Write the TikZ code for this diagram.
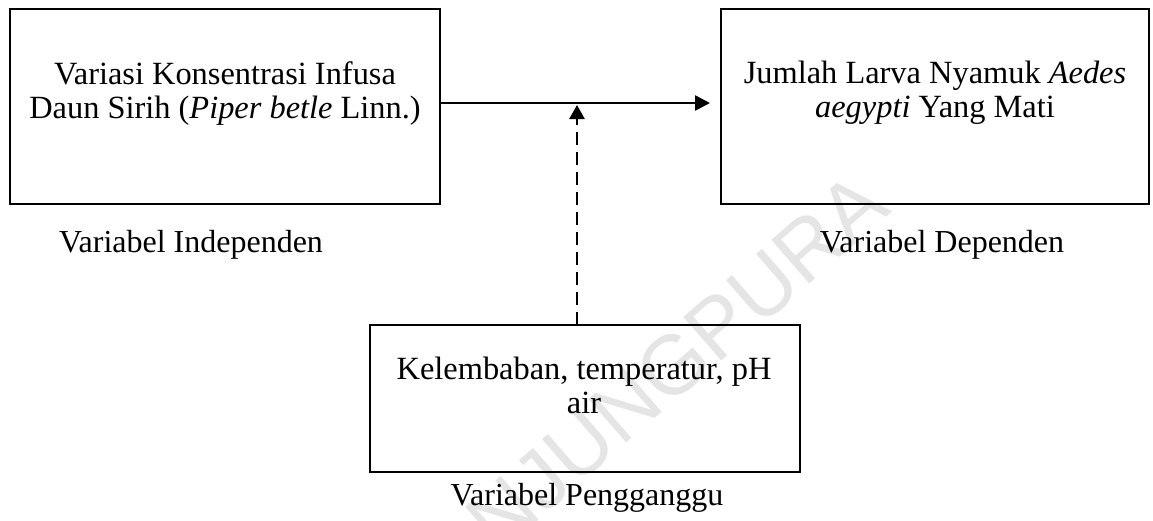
\documentclass[tikz,border=0pt]{standalone}
\usepackage{fontspec}
\setmainfont{Liberation Serif}
\newfontfamily\wmfont{Liberation Sans}
\usetikzlibrary{arrows.meta}
\begin{document}
\begin{tikzpicture}[x=1pt,y=-1pt,
  boxshape/.style={draw,line width=2pt,inner sep=0pt,outer sep=0pt},
  boxtext/.style={inner sep=0pt,align=center,anchor=north,font=\fontsize{32.4}{34}\selectfont},
  caption/.style={inner sep=0pt,anchor=base,font=\fontsize{32}{34}\selectfont},
  mainarrow/.style={line width=2.6pt,-{Triangle[length=15pt,width=15pt]}},
  dasharrow/.style={line width=2.6pt,dash pattern=on 13pt off 7pt,-{Triangle[length=14pt,width=15pt]}},
  watermark/.style={inner sep=0pt,text=gray!20,font=\wmfont\fontsize{84}{84}\selectfont}]
\useasboundingbox (0,0) rectangle (1153,520);
\fill[white] (0,0) rectangle (1153,520);
% watermark
\node[watermark,rotate=41,anchor=base east] (wm) at (893,212) {TANJUNGPURA};
% boxes
\node[boxshape,minimum width=430pt,minimum height=195pt] (lbox) at (225,106.5) {};
\node[boxshape,minimum width=428pt,minimum height=195pt] (rbox) at (935,106.5) {};
\node[boxshape,minimum width=430pt,minimum height=147pt] (bbox) at (585,398.5) {};
% box texts
\node[boxtext] (ltext) at (225,60) {\strut Variasi Konsentrasi Infusa\\\strut Daun Sirih (\textit{Piper betle} Linn.)};
\node[boxtext] (rtext) at (935,59) {\strut Jumlah Larva Nyamuk \textit{Aedes}\\\strut\textit{aegypti} Yang Mati};
\node[boxtext] (btext) at (584,355.5) {\strut Kelembaban, temperatur, pH\\\strut air};
% captions
\node[caption] (lcap) at (191,252) {Variabel Independen};
\node[caption] (rcap) at (942,252) {Variabel Dependen};
\node[caption] (bcap) at (587,505) {Variabel Pengganggu};
% connectors
\draw[mainarrow,shorten >=11pt] ([yshift=3.5pt]lbox.east) -- ([yshift=3.5pt]rbox.west);
\coordinate (meet) at ([xshift=-8pt,yshift=3.5pt]bbox.north |- lbox.east);
\draw[dasharrow,shorten >=2pt] ([xshift=-8pt]bbox.north) -- (meet);
\end{tikzpicture}
\end{document}
